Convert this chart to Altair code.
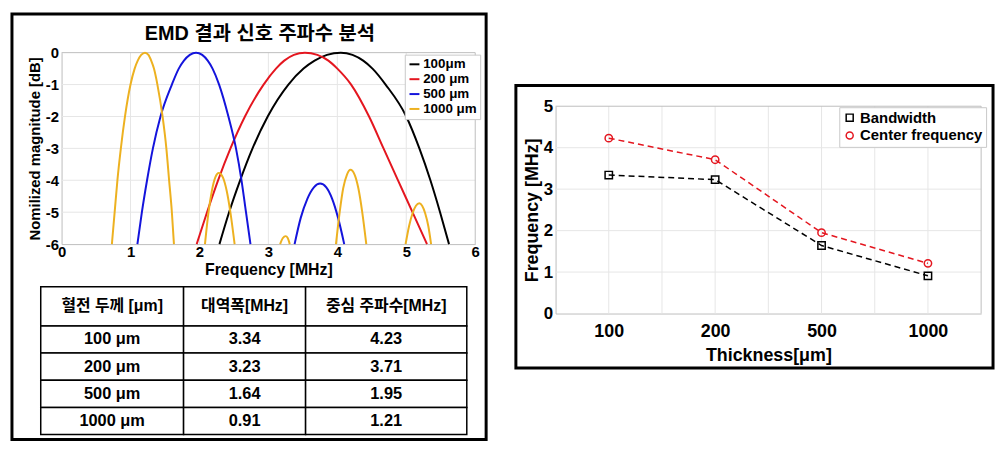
import altair as alt
import pandas as pd

# ---------------- values ----------------
curve_names = ["100μm", "200 μm", "500 μm", "1000 μm"]
curve_colors = ["#000000", "#e4161f", "#1414dc", "#edb120"]

# 100 μm main lobe (frequency MHz, magnitude dB)
f_100 = [2.29, 2.43, 2.59, 2.77, 2.99, 3.29, 3.51, 3.67, 3.85, 4.05, 4.22, 4.375, 4.51, 4.70, 5.00, 5.19, 5.35, 5.49, 5.62]
db_100 = [-6, -5, -4, -3, -2, -1, -0.5, -0.25, -0.07, 0, -0.07, -0.25, -0.5, -1, -2, -3, -4, -5, -6]

# 200 μm main lobe
f_200 = [1.96, 2.11, 2.27, 2.45, 2.66, 2.93, 3.11, 3.23, 3.37, 3.53, 3.71, 3.87, 4.00, 4.20, 4.46, 4.67, 4.88, 5.09, 5.30]
db_200 = [-6, -5, -4, -3, -2, -1, -0.5, -0.25, -0.07, 0, -0.07, -0.25, -0.5, -1, -2, -3, -4, -5, -6]

# 500 μm main lobe and side lobe
f_500 = [1.10, 1.165, 1.24, 1.325, 1.435, 1.60, 1.70, 1.775, 1.86, 1.95, 2.04, 2.12, 2.19, 2.285, 2.42, 2.53, 2.61, 2.675, 2.74]
db_500 = [-6, -5, -4, -3, -2, -1, -0.5, -0.25, -0.07, 0, -0.07, -0.25, -0.5, -1, -2, -3, -4, -5, -6]
f_500_s = [3.38, 3.47, 3.565, 3.66, 3.75, 3.84, 3.925, 4.01, 4.10]
db_500_s = [-6, -5.17, -4.58, -4.22, -4.10, -4.22, -4.58, -5.17, -6]

# 1000 μm main lobe and side lobes
f_1000 = [0.73, 0.77, 0.81, 0.86, 0.92, 1.00, 1.06, 1.105, 1.155, 1.21, 1.26, 1.30, 1.34, 1.39, 1.465, 1.52, 1.56, 1.60, 1.63]
db_1000 = [-6, -5, -4, -3, -2, -1, -0.5, -0.25, -0.07, 0, -0.07, -0.25, -0.5, -1, -2, -3, -4, -5, -6]
f_1000_s1 = [2.08, 2.13, 2.18, 2.23, 2.28, 2.34, 2.395, 2.45, 2.51]
db_1000_s1 = [-6, -5.02, -4.33, -3.91, -3.77, -3.91, -4.33, -5.02, -6]
f_1000_s2 = [3.17, 3.21, 3.25, 3.28, 3.31]
db_1000_s2 = [-6, -5.81, -5.75, -5.81, -6]
f_1000_s3 = [3.98, 4.035, 4.085, 4.14, 4.19, 4.25, 4.305, 4.36, 4.42]
db_1000_s3 = [-6, -4.98, -4.25, -3.82, -3.67, -3.82, -4.25, -4.98, -6]
f_1000_s4 = [4.99, 5.04, 5.09, 5.14, 5.19, 5.23, 5.275, 5.32, 5.36]
db_1000_s4 = [-6, -5.44, -5.04, -4.80, -4.72, -4.80, -5.04, -5.44, -6]

# left-plot ticks / grid
spec_x_ticks = [0, 1, 2, 3, 4, 5, 6]
spec_y_ticks = [-6, -5, -4, -3, -2, -1, 0]

# table
table_headers = ["혈전 두께 [μm]", "대역폭[MHz]", "중심 주파수[MHz]"]
table_thickness = ["100 μm", "200 μm", "500 μm", "1000 μm"]
bandwidth = [3.34, 3.23, 1.64, 0.91]
center_freq = [4.23, 3.71, 1.95, 1.21]

# right plot
thickness_labels = ["100", "200", "500", "1000"]
thickness_pos = [1, 2, 3, 4]
right_series = ["Bandwidth", "Center frequency"]
right_colors = ["#000000", "#e4161f"]
right_x_grid = [1, 1.5, 2, 2.5, 3, 3.5, 4]
right_y_ticks = [0, 1, 2, 3, 4, 5]

# ---------------- layout / style ----------------
FONT = "Liberation Sans, Noto Sans CJK KR"
WL, HL = 478, 429
WR, HR = 481, 285
GRID = "#e6e6e6"
EDGE = "#bdbdbd"

# ---------------- left panel: spectra ----------------
rows = []
for name, seg, fs, ds in [
    (curve_names[0], "a", f_100, db_100),
    (curve_names[1], "b", f_200, db_200),
    (curve_names[2], "c", f_500, db_500),
    (curve_names[2], "d", f_500_s, db_500_s),
    (curve_names[3], "e", f_1000, db_1000),
    (curve_names[3], "f", f_1000_s1, db_1000_s1),
    (curve_names[3], "g", f_1000_s2, db_1000_s2),
    (curve_names[3], "h", f_1000_s3, db_1000_s3),
    (curve_names[3], "i", f_1000_s4, db_1000_s4),
]:
    for f, d in zip(fs, ds):
        rows.append({"series": name, "seg": seg, "f": f, "db": d})
spec_df = pd.DataFrame(rows)

LX = alt.Scale(domain=[0, 6], range=[50, 467], nice=False, zero=False)
LY = alt.Scale(domain=[-6, 0], range=[232, 39], nice=False, zero=False)

LXA = alt.Axis(
    orient="bottom", offset=232 - HL, values=spec_x_ticks, title="Frequency [MHz]",
    labelFont=FONT, labelFontSize=15, labelFontWeight="bold", labelColor="black",
    labelPadding=1, labelFlush=False, labelOverlap=False, ticks=False,
    domainColor=EDGE, grid=False,
    titleFont=FONT, titleFontSize=16, titleFontWeight="bold", titleColor="black", titlePadding=2)
LYA = alt.Axis(
    orient="left", offset=-50, values=spec_y_ticks, labelExpr="'' + datum.value",
    title="Nomilized magnitude [dB]",
    labelFont=FONT, labelFontSize=15, labelFontWeight="bold", labelColor="black",
    labelPadding=3, labelFlush=False, labelOverlap=False, ticks=False,
    domainColor=EDGE, grid=False,
    titleFont=FONT, titleFontSize=15, titleFontWeight="bold", titleColor="black", titlePadding=3)

lx_grid = alt.Chart(pd.DataFrame({"g": spec_x_ticks[1:-1]})).mark_rule(color=GRID, strokeWidth=1).encode(
    x=alt.X("g:Q", scale=LX, axis=LXA),
    y=alt.Y(datum=-6, scale=LY, axis=LYA),
    y2=alt.Y2(datum=0),
)
ly_grid = alt.Chart(pd.DataFrame({"g": spec_y_ticks[1:-1]})).mark_rule(color=GRID, strokeWidth=1).encode(
    y=alt.Y("g:Q", scale=LY, axis=LYA),
    x=alt.X(datum=0, scale=LX, axis=LXA),
    x2=alt.X2(datum=6),
)
l_top = alt.Chart(pd.DataFrame({"g": [0]})).mark_rule(color=EDGE, strokeWidth=1).encode(
    y=alt.Y("g:Q", scale=LY, axis=LYA),
    x=alt.X(datum=0, scale=LX, axis=LXA),
    x2=alt.X2(datum=6),
)
l_right = alt.Chart(pd.DataFrame({"g": [6]})).mark_rule(color=EDGE, strokeWidth=1).encode(
    x=alt.X("g:Q", scale=LX, axis=LXA),
    y=alt.Y(datum=-6, scale=LY, axis=LYA),
    y2=alt.Y2(datum=0),
)

spec_lines = alt.Chart(spec_df).mark_line(strokeWidth=2, interpolate="monotone").encode(
    x=alt.X("f:Q", scale=LX, axis=LXA),
    y=alt.Y("db:Q", scale=LY, axis=LYA),
    color=alt.Color("series:N", scale=alt.Scale(domain=curve_names, range=curve_colors),
                    legend=alt.Legend(
                        orient="none", legendX=396, legendY=41, title=None,
                        symbolType="stroke", symbolStrokeWidth=2, symbolSize=100,
                        labelFont=FONT, labelFontSize=13.5, labelFontWeight="bold", labelColor="black",
                        labelOffset=2, rowPadding=0, padding=3,
                        fillColor="white", strokeColor="#c8c8c8")),
    detail="seg:N",
)

spec_plot = alt.layer(lx_grid, ly_grid, l_top, l_right, spec_lines)

title_text = alt.Chart(pd.DataFrame({"t": ["EMD 결과 신호 주파수 분석"]})).mark_text(
    font=FONT, fontSize=20, fontWeight="bold", color="black", align="center", baseline="middle"
).encode(x=alt.value(250), y=alt.value(20), text="t:N")

# ---------------- left panel: table ----------------
col_edges = [29, 173, 296, 458.5]
row_top, row_mid, row_bottom = 275, 314.5, 424
body_keys = ["r1", "r2", "r3", "r4"]
col_values = [
    table_thickness,
    [f"{v:.2f}" for v in bandwidth],
    [f"{v:.2f}" for v in center_freq],
]

table_layers = []
for i in range(3):
    hdr_df = pd.DataFrame({"c": [f"c{i}"], "r": ["h"], "t": [table_headers[i]]})
    body_df = pd.DataFrame({"c": [f"c{i}"] * 4, "r": body_keys, "t": col_values[i]})
    xs = alt.Scale(domain=[f"c{i}"], range=[col_edges[i], col_edges[i + 1]], paddingInner=0, paddingOuter=0)
    ysh = alt.Scale(domain=["h"], range=[row_top, row_mid], paddingInner=0, paddingOuter=0)
    ysb = alt.Scale(domain=body_keys, range=[row_mid, row_bottom], paddingInner=0, paddingOuter=0)
    for df, ys, fs in [(hdr_df, ysh, 16), (body_df, ysb, 16.5)]:
        base = alt.Chart(df).encode(
            x=alt.X("c:N", scale=xs, axis=None),
            y=alt.Y("r:N", scale=ys, axis=None),
        )
        cells = base.mark_rect(fill="white", stroke="black", strokeWidth=1.5)
        txt = base.mark_text(font=FONT, fontSize=fs, fontWeight="bold", color="black",
                             align="center", baseline="middle").encode(text="t:N")
        table_layers.append(alt.layer(cells, txt))

left_panel = alt.layer(spec_plot, *table_layers, title_text).resolve_scale(
    x="independent", y="independent"
).properties(width=WL, height=HL)

# ---------------- right panel ----------------
rrows = []
for name, vals in zip(right_series, [bandwidth, center_freq]):
    for p, v in zip(thickness_pos, vals):
        rrows.append({"series": name, "pos": p, "v": v})
right_df = pd.DataFrame(rrows)

RX = alt.Scale(domain=[0.5, 4.5], range=[40, 469], nice=False, zero=False)
RY = alt.Scale(domain=[0, 5], range=[230, 21], nice=False, zero=False)

label_js = "[" + ",".join(f"'{t}'" for t in thickness_labels) + "]"
RXA = alt.Axis(
    orient="bottom", offset=230 - HR, values=thickness_pos,
    labelExpr=f"{label_js}[datum.value - 1]", title="Thickness[μm]",
    labelFont=FONT, labelFontSize=18, labelFontWeight="bold", labelColor="black",
    labelPadding=9, labelFlush=False, labelOverlap=False, ticks=False,
    domainColor=EDGE, grid=False,
    titleFont=FONT, titleFontSize=18, titleFontWeight="bold", titleColor="black", titlePadding=6)
RYA = alt.Axis(
    orient="left", offset=-40, values=right_y_ticks, title="Frequency [MHz]",
    labelFont=FONT, labelFontSize=17, labelFontWeight="bold", labelColor="black",
    labelPadding=3, labelFlush=False, labelOverlap=False, ticks=False,
    domainColor=EDGE, grid=False,
    titleFont=FONT, titleFontSize=18, titleFontWeight="bold", titleColor="black", titlePadding=2)

rx_grid = alt.Chart(pd.DataFrame({"g": right_x_grid})).mark_rule(color=GRID, strokeWidth=1).encode(
    x=alt.X("g:Q", scale=RX, axis=RXA),
    y=alt.Y(datum=0, scale=RY, axis=RYA),
    y2=alt.Y2(datum=5),
)
ry_grid = alt.Chart(pd.DataFrame({"g": right_y_ticks[1:-1]})).mark_rule(color=GRID, strokeWidth=1).encode(
    y=alt.Y("g:Q", scale=RY, axis=RYA),
    x=alt.X(datum=0.5, scale=RX, axis=RXA),
    x2=alt.X2(datum=4.5),
)
r_top = alt.Chart(pd.DataFrame({"g": [5]})).mark_rule(color=EDGE, strokeWidth=1).encode(
    y=alt.Y("g:Q", scale=RY, axis=RYA),
    x=alt.X(datum=0.5, scale=RX, axis=RXA),
    x2=alt.X2(datum=4.5),
)
r_right = alt.Chart(pd.DataFrame({"g": [4.5]})).mark_rule(color=EDGE, strokeWidth=1).encode(
    x=alt.X("g:Q", scale=RX, axis=RXA),
    y=alt.Y(datum=0, scale=RY, axis=RYA),
    y2=alt.Y2(datum=5),
)

r_color = alt.Scale(domain=right_series, range=right_colors)
r_shape = alt.Scale(domain=right_series, range=["square", "circle"])
r_legend = alt.Legend(
    orient="none", legendX=326, legendY=22, title=None,
    symbolStrokeWidth=1.5, symbolSize=50, symbolFillColor="transparent",
    labelFont=FONT, labelFontSize=15, labelFontWeight="bold", labelColor="black",
    labelOffset=3, rowPadding=2, padding=3,
    fillColor="white", strokeColor="#c8c8c8")
r_lines = alt.Chart(right_df).mark_line(strokeWidth=1.5, strokeDash=[6, 4]).encode(
    x=alt.X("pos:Q", scale=RX, axis=RXA),
    y=alt.Y("v:Q", scale=RY, axis=RYA),
    color=alt.Color("series:N", scale=r_color, legend=r_legend),
)
r_points = alt.Chart(right_df).mark_point(filled=False, strokeWidth=1.5, size=55, opacity=1).encode(
    x=alt.X("pos:Q", scale=RX, axis=RXA),
    y=alt.Y("v:Q", scale=RY, axis=RYA),
    color=alt.Color("series:N", scale=r_color, legend=r_legend),
    shape=alt.Shape("series:N", scale=r_shape, legend=r_legend),
)

right_panel = alt.layer(rx_grid, ry_grid, r_top, r_right, r_lines, r_points).properties(width=WR, height=HR)

chart = alt.hconcat(left_panel, right_panel, spacing=26, center=True).resolve_scale(
    color="independent", shape="independent"
).properties(
    padding=2, background="white"
).configure_view(stroke="black", strokeWidth=3)

chart.save("out.html", embed_options={"renderer": "svg", "actions": False})
